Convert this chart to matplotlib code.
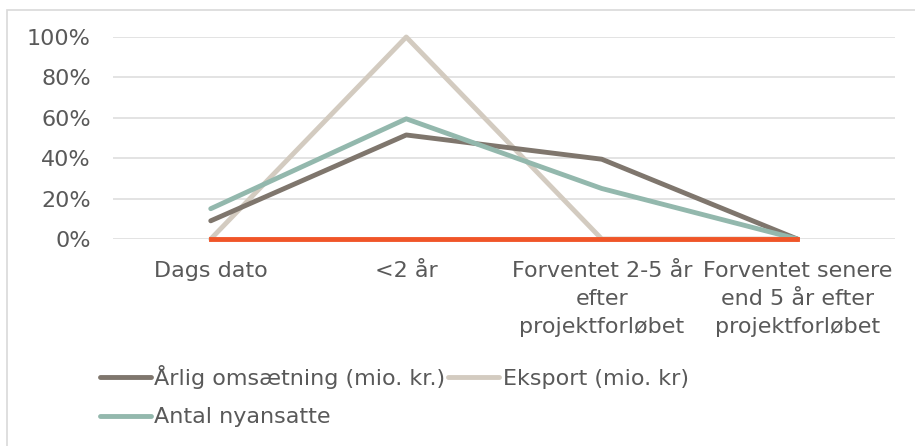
import matplotlib
matplotlib.use("Agg")
import matplotlib.pyplot as plt
from matplotlib.patches import Rectangle

categories = ["Dags dato", "<2 år", "Forventet 2-5 år\nefter\nprojektforløbet",
              "Forventet senere\nend 5 år efter\nprojektforløbet"]
aarlig = [0.09, 0.515, 0.395, 0.0]
eksport = [0.0, 1.0, 0.0, 0.0]
nyansatte = [0.15, 0.595, 0.25, 0.0]
nul = [0.0, 0.0, 0.0, 0.0]
yticks = [0, 0.2, 0.4, 0.6, 0.8, 1.0]
ytick_labels = ["0%", "20%", "40%", "60%", "80%", "100%"]

plt.rcParams['font.family'] = ['DejaVu Sans']
txt = "#595959"
fs = 16

W, H = 915, 446
fig = plt.figure(figsize=(W/100, H/100), dpi=100)
fig.patches.append(Rectangle((7/W, -0.2), 1.2, (H-10)/H + 0.2, transform=fig.transFigure,
                             fill=False, edgecolor="#d9d9d9", linewidth=1.2))

ax = fig.add_axes([113/W, 1-239/H, (895-113)/W, (239-37)/H])
x = list(range(len(categories)))
l1, = ax.plot(x, aarlig, color="#7f766d", lw=3.5, label="Årlig omsætning (mio. kr.)", solid_capstyle="round", zorder=3)
l2, = ax.plot(x, eksport, color="#d3cbc0", lw=3.5, label="Eksport (mio. kr)", solid_capstyle="round", zorder=2)
l3, = ax.plot(x, nyansatte, color="#93b8ad", lw=3.5, label="Antal nyansatte", solid_capstyle="round", zorder=4)
ax.plot(x, nul, color="#f05528", lw=3.5, zorder=5)

ax.set_xlim(-0.5, 3.5)
ax.set_ylim(0, 1.0)
ax.set_yticks(yticks)
ax.set_yticklabels(ytick_labels, color=txt, fontsize=fs)
ax.set_xticks(x)
ax.set_xticklabels(categories, color=txt, fontsize=fs, linespacing=1.48)
ax.tick_params(length=0)
ax.tick_params(axis='y', pad=16)
ax.tick_params(axis='x', pad=16)
ax.grid(axis='y', color="#dedede", lw=1.2)
ax.set_axisbelow(True)
for s in ax.spines.values():
    s.set_visible(False)
for ln in ax.lines:
    ln.set_clip_on(False)

fig.legend([l1, l3, l2], [l1.get_label(), l3.get_label(), l2.get_label()],
           ncol=2, loc="center left", bbox_to_anchor=(100/W, 1-396/H), frameon=False,
           fontsize=fs, labelcolor=txt, handlelength=2.3, handletextpad=0.15,
           columnspacing=0.12, labelspacing=0.85, borderaxespad=0, borderpad=0)

fig.savefig("out.png", dpi=100)
